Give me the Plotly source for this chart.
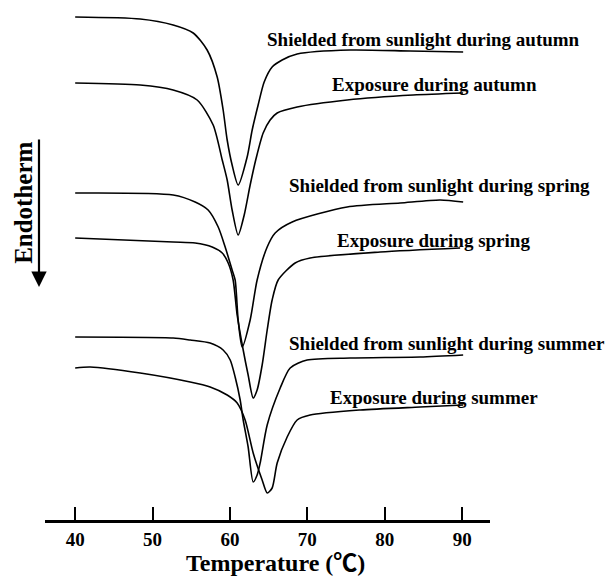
import plotly.graph_objects as go

# ---- data (temperature in °C, heat flow in arbitrary units, curves offset) ----
names = [
    "Shielded from sunlight during autumn",
    "Exposure during autumn",
    "Shielded from sunlight during spring",
    "Exposure during spring",
    "Shielded from sunlight during summer",
    "Exposure during summer",
]

t_shield_autumn = [40.0, 48.40, 52.66, 55.25, 57.05, 58.35, 59.12, 59.64, 60.28, 61.06,
                   62.22, 62.87, 63.64, 64.42, 65.45, 66.74, 68.68, 75.53, 83.28, 90.13]
h_shield_autumn = [5.03, 5.01, 4.95, 4.87, 4.70, 4.43, 4.10, 3.80, 3.55, 3.35,
                   3.63, 3.90, 4.15, 4.38, 4.53, 4.60, 4.66, 4.70, 4.69, 4.68]

t_expo_autumn = [40.0, 48.40, 52.66, 55.76, 57.83, 59.00, 59.64, 60.28, 61.06, 61.84,
                 62.61, 63.39, 64.29, 65.19, 66.10, 68.68, 75.14, 83.67, 90.13]
h_expo_autumn = [4.37, 4.35, 4.30, 4.20, 3.95, 3.60, 3.40, 3.10, 2.85, 3.05,
                 3.35, 3.62, 3.87, 4.00, 4.07, 4.13, 4.20, 4.25, 4.27]

t_shield_spring = [40.0, 52.66, 55.50, 57.18, 58.48, 59.38, 60.28, 60.67, 61.06, 61.58,
                   62.61, 63.51, 64.81, 65.84, 68.04, 75.14, 81.99, 87.16, 90.13]
h_shield_spring = [3.27, 3.25, 3.18, 3.10, 2.93, 2.73, 2.50, 2.40, 2.00, 1.73,
                   2.00, 2.40, 2.73, 2.87, 2.98, 3.13, 3.17, 3.20, 3.18]

t_expo_spring = [40.0, 52.66, 55.50, 57.70, 59.00, 59.77, 60.41, 60.93, 61.71, 62.35,
                 63.00, 63.51, 64.16, 64.81, 65.45, 66.23, 68.42, 70.36, 79.41, 89.74]
h_expo_spring = [2.82, 2.78, 2.77, 2.73, 2.67, 2.57, 2.40, 2.05, 1.70, 1.45,
                 1.22, 1.30, 1.55, 1.90, 2.20, 2.40, 2.57, 2.62, 2.68, 2.72]

t_shield_summer = [40.0, 52.66, 54.86, 57.44, 59.12, 60.03, 60.67, 61.32, 61.71, 62.35,
                   63.00, 63.51, 63.90, 64.81, 66.49, 67.78, 69.97, 75.53, 84.57, 90.13]
h_shield_summer = [1.83, 1.82, 1.80, 1.77, 1.70, 1.60, 1.43, 1.20, 1.00, 0.73,
                   0.38, 0.45, 0.57, 0.95, 1.32, 1.52, 1.60, 1.62, 1.63, 1.65]

t_expo_summer = [40.0, 41.94, 48.40, 54.86, 57.44, 59.64, 60.93, 61.96, 63.00, 64.16,
                 64.81, 65.45, 66.10, 67.39, 68.68, 70.36, 76.82, 84.57, 90.13]
h_expo_summer = [1.52, 1.53, 1.47, 1.38, 1.33, 1.25, 1.17, 1.00, 0.67, 0.40,
                 0.27, 0.32, 0.57, 0.83, 1.00, 1.05, 1.10, 1.13, 1.15]

# label anchor positions (left edge temperature, heat-flow level)
label_t = [64.55, 72.93, 67.40, 73.59, 67.40, 72.69]
label_h = [4.81, 4.36, 3.35, 2.80, 1.77, 1.23]

tick_vals = [40, 50, 60, 70, 80, 90]
tick_text = ["40", "50", "60", "70", "80", "90"]

x_title = "Temperature (℃)"
y_title = "Endotherm"

series_t = [t_shield_autumn, t_expo_autumn, t_shield_spring, t_expo_spring, t_shield_summer, t_expo_summer]
series_h = [h_shield_autumn, h_expo_autumn, h_shield_spring, h_expo_spring, h_shield_summer, h_expo_summer]

FONT = "Liberation Serif, Times New Roman, Noto Sans CJK SC, serif"

fig = go.Figure()
for n, t, h in zip(names, series_t, series_h):
    fig.add_trace(go.Scatter(x=t, y=h, mode="lines", name=n,
                             line=dict(color="black", width=1.6, shape="spline", smoothing=0.7),
                             showlegend=False, hoverinfo="skip"))

for n, lt, lh in zip(names, label_t, label_h):
    fig.add_annotation(x=lt, y=lh, xref="x", yref="y", text=n,
                       showarrow=False, xanchor="left", yanchor="middle",
                       font=dict(family=FONT, size=19, color="black", weight="bold"))

# x-axis title
fig.add_annotation(x=0.517, y=-0.084, xref="paper", yref="paper", text=x_title,
                   showarrow=False, xanchor="center", yanchor="middle",
                   font=dict(family=FONT, size=24, color="black", weight="bold"))

# y-axis "Endotherm" label with downward arrow
fig.add_annotation(x=-0.047, y=0.622, xref="paper", yref="paper", text=y_title,
                   textangle=-90, showarrow=False, xanchor="center", yanchor="middle",
                   font=dict(family=FONT, size=25, color="black", weight="bold"))
fig.add_annotation(x=-0.0135, y=0.457, xref="paper", yref="paper", text="",
                   showarrow=True, ax=0, ay=-149, arrowhead=2, arrowsize=1.4,
                   arrowwidth=2.2, arrowcolor="black")

fig.update_layout(
    width=616, height=577,
    margin=dict(l=45, r=126, t=10, b=57),
    paper_bgcolor="white", plot_bgcolor="white",
    xaxis=dict(range=[36.1, 93.6], showgrid=False, zeroline=False,
               showline=True, linecolor="black", linewidth=2.5,
               ticks="inside", ticklen=13, tickwidth=2, tickcolor="black",
               tickvals=tick_vals, ticktext=tick_text, automargin=False,
               tickfont=dict(family=FONT, size=19, color="black", weight="bold")),
    yaxis=dict(range=[0, 5.10], visible=False),
)

fig.write_html("out.html", config={"displayModeBar": False},
               post_script="document.body.style.margin='0';document.body.style.overflow='hidden';")
